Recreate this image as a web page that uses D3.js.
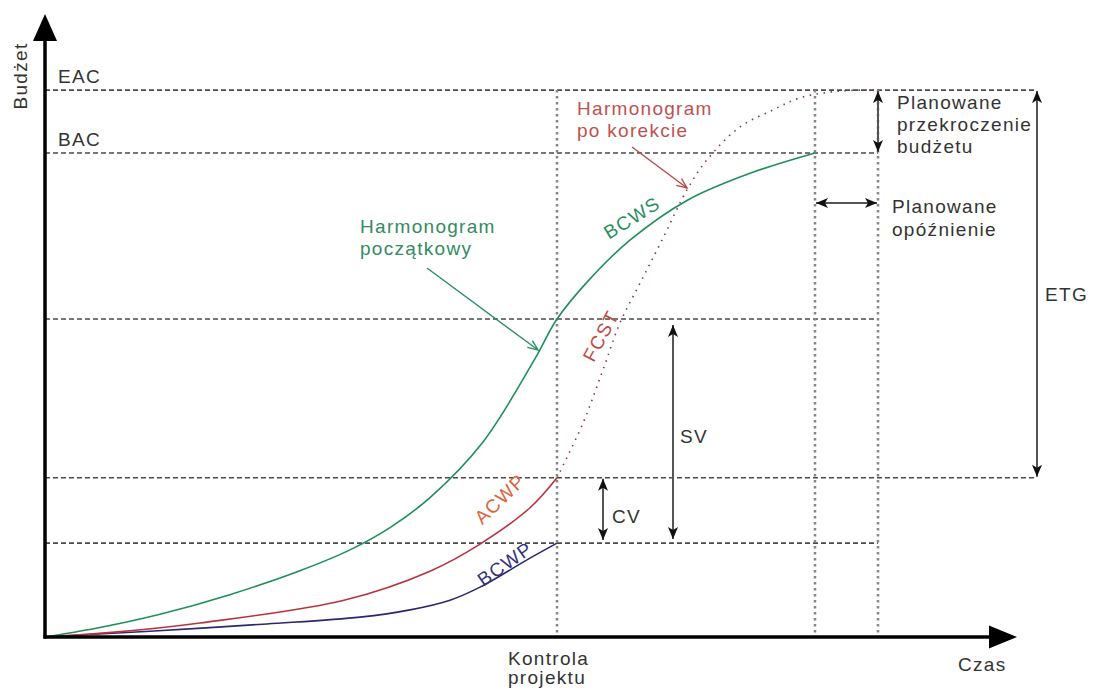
<!DOCTYPE html>
<html><head><meta charset="utf-8">
<script src="https://cdn.jsdelivr.net/npm/d3@7"></script>
<style>
body{margin:0;background:#fff;}
svg text{font-family:"Liberation Sans",Arial,Helvetica,sans-serif;font-size:19px;letter-spacing:1.3px;}
</style></head><body>
<svg id="c" width="1094" height="693"></svg>
<script>
// Time (x) in % of axis length, budget (y) in % of BAC
const bcwsTime  = [0, 5.1, 11.5, 18.4, 25.5, 30.5, 34.5, 38.5, 43.8, 49.0, 51.2, 54.5, 58.5, 64.2, 70.5, 77.0];
const bcwsValue = [0, 1.8, 4.7, 8.7, 13.7, 18.0, 22.6, 28.8, 40.3, 57.5, 65.7, 74.0, 82.0, 90.2, 95.8, 100];
const acwpTime  = [0, 7, 15.5, 29.9, 38.5, 43.5, 48.5, 51.2];
const acwpValue = [0, 1.0, 2.9, 7.6, 13.6, 19.2, 26.7, 32.9];
const bcwpTime  = [0, 10.5, 22.2, 31.5, 36.5, 40.5, 43.5, 48.5, 51.2];
const bcwpValue = [0, 1.2, 2.7, 4.1, 5.6, 7.6, 10.3, 16.3, 19.4];
const fcstTime  = [51.2, 53.8, 55.8, 57.5, 59.5, 61.7, 64.2, 66.2, 69.5, 72.8, 75.5, 79.5, 83.3];
const fcstValue = [32.9, 44.2, 55.2, 64.9, 73.1, 82.0, 92.4, 98.6, 105.4, 108.9, 111.4, 112.8, 113.0];
const levelNames  = ["EAC", "BAC"];
const levelValues = [113.0, 100];
const timeMarks   = [51.2, 77.0, 83.3];   // kontrola, planowany koniec, prognozowany koniec
const etgTime     = 99.2;
const axisEnd     = [97.2, 128.7];

const svg = d3.select("#c");
const x = d3.scaleLinear().domain([0, 100]).range([45, 1045]);
const y = d3.scaleLinear().domain([0, 100]).range([637, 153]);

const zip = (a, b) => a.map((t, i) => [t, b[i]]);
const line = d3.line().x(d => x(d[0])).y(d => y(d[1])).curve(d3.curveCatmullRom.alpha(0.5));

const control = timeMarks[0], planEnd = timeMarks[1], fcEnd = timeMarks[2];
const eac = levelValues[0], bac = levelValues[1];
const bcwsAtControl = bcwsValue[bcwsTime.indexOf(control)];
const acwpNow = acwpValue[acwpValue.length - 1];
const bcwpNow = bcwpValue[bcwpValue.length - 1];

// markers
const defs = svg.append("defs");
defs.append("marker").attr("id", "ah").attr("viewBox", "0 0 12 10").attr("refX", 12).attr("refY", 5)
  .attr("markerWidth", 12).attr("markerHeight", 10).attr("markerUnits", "userSpaceOnUse")
  .attr("orient", "auto-start-reverse")
  .append("path").attr("d", "M0,0 L12,5 L0,10 L3,5 Z").attr("fill", "#111");

// dashed horizontal lines
const hLines = [[eac, etgTime], [bac, fcEnd], [bcwsAtControl, fcEnd], [acwpNow, etgTime], [bcwpNow, fcEnd]];
svg.append("g").selectAll("line").data(hLines).join("line")
  .attr("x1", x(0)).attr("x2", d => x(d[1])).attr("y1", d => y(d[0])).attr("y2", d => y(d[0]))
  .attr("stroke", "#4a4a4a").attr("stroke-width", 1.6).attr("stroke-dasharray", "5,3");

// dotted vertical lines
svg.append("g").selectAll("line").data(timeMarks).join("line")
  .attr("x1", d => x(d)).attr("x2", d => x(d)).attr("y1", y(eac)).attr("y2", y(0))
  .attr("stroke", "#858585").attr("stroke-width", 2.5).attr("stroke-dasharray", "2.5,3.5");

// curves
svg.append("path").attr("d", line(zip(fcstTime, fcstValue))).attr("fill", "none")
  .attr("stroke", "#8a3a3a").attr("stroke-width", 1.6).attr("stroke-dasharray", "1.5,5.5");
svg.append("path").attr("d", line(zip(bcwpTime, bcwpValue))).attr("fill", "none")
  .attr("stroke", "#2b2870").attr("stroke-width", 1.6);
svg.append("path").attr("d", line(zip(acwpTime, acwpValue))).attr("fill", "none")
  .attr("stroke", "#b8343c").attr("stroke-width", 1.6);
svg.append("path").attr("d", line(zip(bcwsTime, bcwsValue))).attr("fill", "none")
  .attr("stroke", "#1f8f5a").attr("stroke-width", 1.6);

// axes
const ax = svg.append("g");
ax.append("line").attr("x1", x(0)).attr("x2", x(0)).attr("y1", y(0) + 1.5).attr("y2", y(axisEnd[1]) + 24)
  .attr("stroke", "#000").attr("stroke-width", 3.5);
ax.append("line").attr("x1", x(0) - 1.5).attr("x2", x(axisEnd[0]) - 26).attr("y1", y(0)).attr("y2", y(0))
  .attr("stroke", "#000").attr("stroke-width", 3.5);
ax.append("path").attr("fill", "#000")
  .attr("d", `M${x(0)},${y(axisEnd[1])} L${x(0) + 12},${y(axisEnd[1]) + 27} L${x(0) - 12},${y(axisEnd[1]) + 27} Z`);
ax.append("path").attr("fill", "#000")
  .attr("d", `M${x(axisEnd[0])},${y(0)} L${x(axisEnd[0]) - 28},${y(0) - 11.5} L${x(axisEnd[0]) - 28},${y(0) + 11.5} Z`);

// double arrows
function dArrow(x1, y1, x2, y2) {
  svg.append("line").attr("x1", x1).attr("y1", y1).attr("x2", x2).attr("y2", y2)
    .attr("stroke", "#555").attr("stroke-width", 2)
    .attr("marker-start", "url(#ah)").attr("marker-end", "url(#ah)");
}
dArrow(x(fcEnd), y(eac) + 1, x(fcEnd), y(bac) - 1);               // przekroczenie
dArrow(x(planEnd) + 1, 203, x(fcEnd) - 1, 203);                    // opóźnienie
dArrow(x(etgTime), y(eac) + 1, x(etgTime), y(acwpNow) - 1);        // ETG
dArrow(673, y(bcwsAtControl) + 6, 673, y(bcwpNow) - 4);            // SV
dArrow(603, y(acwpNow) + 1, 603, y(bcwpNow) - 3);                  // CV

// pointer arrows
function pointer(x1, y1, x2, y2, color) {
  svg.append("line").attr("x1", x1).attr("y1", y1).attr("x2", x2).attr("y2", y2)
    .attr("stroke", color).attr("stroke-width", 1.4);
  const a = Math.atan2(y2 - y1, x2 - x1), L = 11, w = 0.4;
  svg.append("path").attr("fill", "none").attr("stroke", color).attr("stroke-width", 1.4)
    .attr("d", `M${x2 - L * Math.cos(a - w)},${y2 - L * Math.sin(a - w)} L${x2},${y2} L${x2 - L * Math.cos(a + w)},${y2 - L * Math.sin(a + w)}`);
}
pointer(427, 268, 538, 350, "#2a8f62");
pointer(632, 147, 687, 188, "#b84a48");

// texts
function txt(s, px, py, color) {
  return svg.append("text").attr("x", px).attr("y", py).attr("fill", color).text(s);
}
const grey = "#333";
svg.append("text").attr("transform", "translate(27,76) rotate(-90)").attr("text-anchor", "middle")
  .attr("fill", grey).text("Budżet");
levelNames.forEach((n, i) => txt(n, 58, y(levelValues[i]) - 7, grey));
txt("Planowane", 897, 109, grey); txt("przekroczenie", 897, 131, grey); txt("budżetu", 897, 153, grey);
txt("Planowane", 892, 213, grey); txt("opóźnienie", 892, 236, grey);
txt("ETG", 1045, 301, grey);
txt("SV", 680, 443, grey);
txt("CV", 612, 523, grey);
txt("Kontrola", 508, 665, grey); txt("projektu", 508, 684, grey);
txt("Czas", 958, 671, grey);
txt("Harmonogram", 360, 233, "#348a63"); txt("początkowy", 360, 255, "#348a63");
txt("Harmonogram", 577, 115, "#c0514f"); txt("po korekcie", 577, 137, "#c0514f");

const rot = [
  ["BCWS", 58.7, 86.6, -32, "#2a8f5e"],
  ["FCST", 55.6, 62.2, -62, "#c24a44"],
  ["ACWP", 45.5, 28.5, -44, "#d8653f"],
  ["BCWP", 46.0, 15.1, -35, "#35337a"]
];
rot.forEach(r => {
  svg.append("text").attr("transform", `translate(${x(r[1])},${y(r[2])}) rotate(${r[3]})`)
    .attr("text-anchor", "middle").attr("dominant-baseline", "central").attr("fill", r[4]).text(r[0]);
});
</script>
</body></html>
